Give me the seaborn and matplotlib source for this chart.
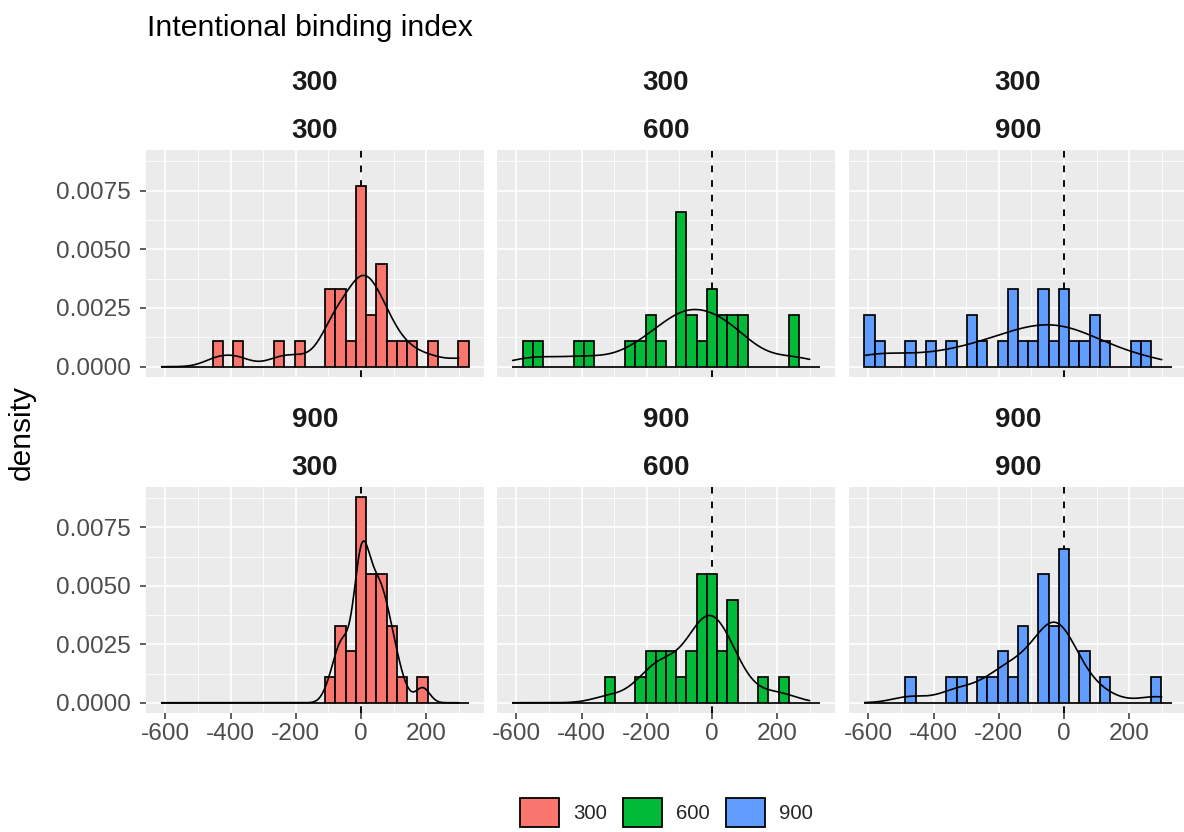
import numpy as np
import pandas as pd
import matplotlib
matplotlib.use("Agg")
import matplotlib.pyplot as plt
from matplotlib.patches import Patch
from matplotlib.ticker import FixedLocator, FormatStrFormatter
import seaborn as sns

# ---------------------------------------------------------------------------
# Data: intentional binding index, binned counts per (delay, condition) cell.
# Bins are 30 equal-width bins centred on multiples of the bin width.
# ---------------------------------------------------------------------------
DATA_MIN, DATA_MAX = -611.0, 299.0
N_BINS = 30
BIN_INDEX = list(range(-19, 11))

delays = ["300", "900"]          # facet rows
conditions = ["300", "600", "900"]  # facet columns / fill

counts_300_300 = [0, 0, 0, 0, 0, 1, 0, 1, 0, 0, 0, 1, 0, 1, 0,
                  0, 3, 3, 1, 7, 2, 4, 1, 1, 1, 0, 1, 0, 0, 1]
counts_300_600 = [0, 1, 1, 0, 0, 0, 1, 1, 0, 0, 0, 1, 1, 2, 1,
                  0, 6, 2, 1, 3, 2, 2, 2, 0, 0, 0, 0, 2, 0, 0]
counts_300_900 = [2, 1, 0, 0, 1, 0, 1, 0, 1, 0, 2, 1, 0, 1, 3,
                  1, 1, 3, 1, 3, 1, 1, 2, 1, 0, 0, 1, 1, 0, 0]
counts_900_300 = [0, 0, 0, 0, 0, 0, 0, 0, 0, 0, 0, 0, 0, 0, 0,
                  0, 1, 3, 2, 8, 5, 5, 3, 1, 0, 1, 0, 0, 0, 0]
counts_900_600 = [0, 0, 0, 0, 0, 0, 0, 0, 0, 1, 0, 0, 1, 2, 2,
                  2, 1, 2, 5, 5, 2, 4, 0, 0, 1, 0, 1, 0, 0, 0]
counts_900_900 = [0, 0, 0, 0, 1, 0, 0, 0, 1, 1, 0, 1, 1, 2, 1,
                  3, 0, 5, 3, 6, 0, 2, 0, 1, 0, 0, 0, 0, 1, 0]

cell_counts = {
    ("300", "300"): counts_300_300,
    ("300", "600"): counts_300_600,
    ("300", "900"): counts_300_900,
    ("900", "300"): counts_900_300,
    ("900", "600"): counts_900_600,
    ("900", "900"): counts_900_900,
}

PALETTE = {"300": "#F8766D", "600": "#00BA38", "900": "#619CFF"}

# Bin geometry
bin_width = (DATA_MAX - DATA_MIN) / (N_BINS - 1)
centers = np.array(BIN_INDEX) * bin_width
edges = np.append(centers - bin_width / 2, centers[-1] + bin_width / 2)

records = []
for (d, c), cnt in cell_counts.items():
    for x, n in zip(centers, cnt):
        records.extend([(d, c, x)] * n)
df = pd.DataFrame(records, columns=["delay", "condition", "ibi"])

# Shared scales with 5% expansion
x_lo, x_hi = edges[0], edges[-1]
x_pad = 0.05 * (x_hi - x_lo)
peak = max(max(cnt) / (sum(cnt) * bin_width) for cnt in cell_counts.values())
y_pad = 0.05 * peak

# ---------------------------------------------------------------------------
# Figure
# ---------------------------------------------------------------------------
sns.set_theme(style="darkgrid")
plt.rcParams["font.family"] = ["Liberation Sans", "DejaVu Sans"]
plt.rcParams["axes.unicode_minus"] = False

W, H = 1184, 832
fig = plt.figure(figsize=(W / 100, H / 100), dpi=100)
fig.patch.set_facecolor("white")

lefts = [146, 497, 849]
panel_w = 338
tops = [150, 487]
panel_h = [227, 226]

TICK_COLOR = "#333333"
LABEL_COLOR = "#4D4D4D"

for i, d in enumerate(delays):
    for j, c in enumerate(conditions):
        ax = fig.add_axes([lefts[j] / W, 1 - (tops[i] + panel_h[i]) / H,
                           panel_w / W, panel_h[i] / H])
        ax.set_facecolor("#EBEBEB")
        sub = df[(df["delay"] == d) & (df["condition"] == c)]

        ax.axvline(0, color="black", linestyle=(0, (3.6, 4.2)), lw=1.35, zorder=1)

        sns.histplot(data=sub, x="ibi", stat="density", bins=edges,
                     color=PALETTE[c], alpha=1, edgecolor="black",
                     linewidth=1.25, ax=ax, zorder=2)

        vals = sub["ibi"].to_numpy()
        sd = vals.std(ddof=1)
        q75, q25 = np.percentile(vals, [75, 25])
        adj = 0.9 * min(sd, (q75 - q25) / 1.34) / sd
        sns.kdeplot(x=vals, bw_adjust=adj, cut=100, clip=(DATA_MIN, DATA_MAX),
                    gridsize=512, color="black", lw=1.2, ax=ax, zorder=3)

        ax.set_xlim(x_lo - x_pad, x_hi + x_pad)
        ax.set_ylim(-y_pad, peak + y_pad)
        ax.xaxis.set_major_locator(FixedLocator([-600, -400, -200, 0, 200]))
        ax.xaxis.set_minor_locator(FixedLocator([-500, -300, -100, 100, 300]))
        ax.yaxis.set_major_locator(FixedLocator([0, 0.0025, 0.005, 0.0075]))
        ax.yaxis.set_minor_locator(FixedLocator([0.00125, 0.00375, 0.00625, 0.00875]))
        ax.yaxis.set_major_formatter(FormatStrFormatter("%.4f"))

        ax.grid(which="major", color="white", lw=1.2)
        ax.grid(which="minor", color="white", lw=0.6)
        ax.set_axisbelow(True)
        for s in ax.spines.values():
            s.set_visible(False)
        ax.set_xlabel("")
        ax.set_ylabel("")

        ax.tick_params(which="minor", length=0)
        ax.tick_params(axis="x", which="major", length=4.5, width=1.1,
                       color=TICK_COLOR, labelcolor=LABEL_COLOR,
                       labelsize=17.6, pad=2.5,
                       bottom=(i == 1), labelbottom=(i == 1))
        ax.tick_params(axis="y", which="major", length=4.5, width=1.1,
                       color=TICK_COLOR, labelcolor=LABEL_COLOR,
                       labelsize=17.6, pad=6.5,
                       left=(j == 0), labelleft=(j == 0))

        # Two-level facet strips
        cx = (lefts[j] + panel_w / 2) / W
        base1, base2 = (90, 138) if i == 0 else (427, 475)
        fig.text(cx, 1 - base1 / H, d, ha="center", va="baseline",
                 fontsize=20, fontweight="bold", color="#1A1A1A")
        fig.text(cx, 1 - base2 / H, c, ha="center", va="baseline",
                 fontsize=20, fontweight="bold", color="#1A1A1A")

fig.text(147 / W, 1 - 36 / H, "Intentional binding index", ha="left",
         va="baseline", fontsize=21.8, color="black")
fig.text(22 / W, 1 - 432 / H, "density", rotation=90, ha="center",
         va="center", fontsize=21.5, color="black")

handles = [Patch(facecolor=PALETTE[c], edgecolor="black", linewidth=1.3)
           for c in conditions]
fig.legend(handles, conditions, loc="center", ncol=3, frameon=False,
           bbox_to_anchor=(666.5 / W, 1 - 812.5 / H), fontsize=14.7,
           handlelength=1.9, handleheight=1.85, handletextpad=0.7,
           columnspacing=0.8, borderpad=0.2)

fig.savefig("out.png", dpi=100, facecolor="white")
